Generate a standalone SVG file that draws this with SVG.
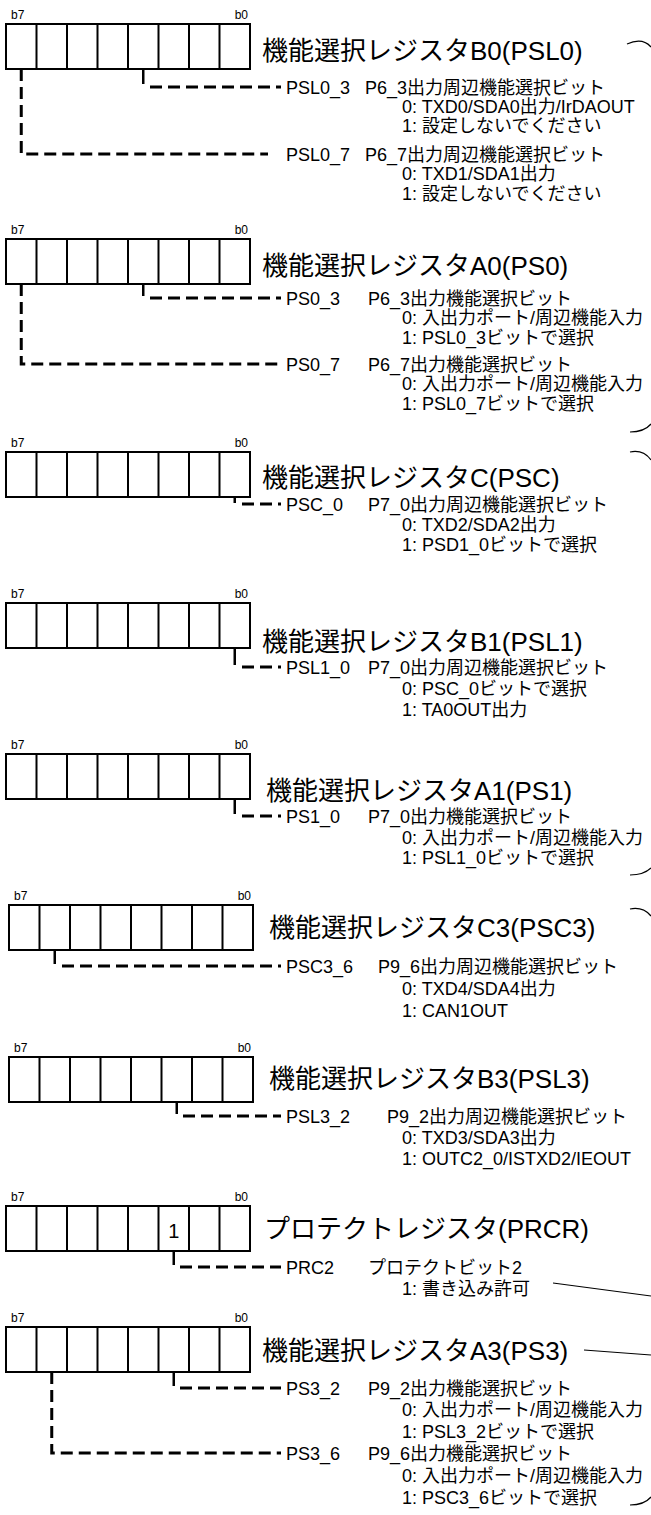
<svg xmlns="http://www.w3.org/2000/svg" xmlns:xlink="http://www.w3.org/1999/xlink" width="651" height="1515" viewBox="0 0 651 1515">
<style>
.bx{fill:#fff;stroke:#000;stroke-width:2}
.dv{stroke:#000;stroke-width:2}
.lb{font-family:'Liberation Sans',Arial,sans-serif;font-size:12px;fill:#000}
.ti{font-family:'Liberation Sans','Noto Sans CJK JP',sans-serif;font-size:26px;fill:#000}
.t{font-family:'Liberation Sans','Noto Sans CJK JP',sans-serif;font-size:18px;fill:#000}
.one{font-family:'Liberation Sans',sans-serif;font-size:20px;fill:#000;text-anchor:middle}
.dash{fill:none;stroke:#000;stroke-width:3;stroke-dasharray:12 6}
.tick{stroke:#000;stroke-width:2.5}
.br{fill:none;stroke:#000;stroke-width:1.2}
</style>
<defs>
<g id="reg">
<rect class="bx" x="0" y="0" width="244" height="45"/>
<path class="dv" d="M30.5,0V45M61,0V45M91.5,0V45M122,0V45M152.5,0V45M183,0V45M213.5,0V45"/>
</g>
</defs>

<g id="reg-psl0">
<text class="lb" x="11" y="19">b7</text><text class="lb" x="248" y="19" text-anchor="end">b0</text>
<use xlink:href="#reg" x="6" y="24"/>
<text class="ti" x="262" y="60">機能選択レジスタB0(PSL0)</text>
<text class="t" x="286" y="94">PSL0_3</text><text class="t" x="365" y="94">P6_3出力周辺機能選択ビット</text>
<text class="t" x="402" y="113">0: TXD0/SDA0出力/IrDAOUT</text>
<text class="t" x="402" y="132">1: 設定しないでください</text>
<text class="t" x="286" y="161">PSL0_7</text><text class="t" x="365" y="161">P6_7出力周辺機能選択ビット</text>
<text class="t" x="402" y="180">0: TXD1/SDA1出力</text>
<text class="t" x="402" y="200">1: 設定しないでください</text>
</g>

<g id="reg-ps0">
<text class="lb" x="11" y="234">b7</text><text class="lb" x="248" y="234" text-anchor="end">b0</text>
<use xlink:href="#reg" x="6" y="239"/>
<text class="ti" x="262" y="275">機能選択レジスタA0(PS0)</text>
<text class="t" x="286" y="305">PS0_3</text><text class="t" x="368" y="305">P6_3出力機能選択ビット</text>
<text class="t" x="402" y="324">0: 入出力ポート/周辺機能入力</text>
<text class="t" x="402" y="344">1: PSL0_3ビットで選択</text>
<text class="t" x="286" y="371">PS0_7</text><text class="t" x="368" y="371">P6_7出力機能選択ビット</text>
<text class="t" x="402" y="390">0: 入出力ポート/周辺機能入力</text>
<text class="t" x="402" y="410">1: PSL0_7ビットで選択</text>
</g>

<g id="reg-psc">
<text class="lb" x="11" y="447">b7</text><text class="lb" x="248" y="447" text-anchor="end">b0</text>
<use xlink:href="#reg" x="6" y="452"/>
<text class="ti" x="262" y="487">機能選択レジスタC(PSC)</text>
<text class="t" x="286" y="511">PSC_0</text><text class="t" x="368" y="511">P7_0出力周辺機能選択ビット</text>
<text class="t" x="402" y="531">0: TXD2/SDA2出力</text>
<text class="t" x="402" y="551">1: PSD1_0ビットで選択</text>
</g>

<g id="reg-psl1">
<text class="lb" x="11" y="598">b7</text><text class="lb" x="248" y="598" text-anchor="end">b0</text>
<use xlink:href="#reg" x="6" y="603"/>
<text class="ti" x="262" y="651">機能選択レジスタB1(PSL1)</text>
<text class="t" x="286" y="674">PSL1_0</text><text class="t" x="368" y="674">P7_0出力周辺機能選択ビット</text>
<text class="t" x="402" y="695">0: PSC_0ビットで選択</text>
<text class="t" x="402" y="716">1: TA0OUT出力</text>
</g>

<g id="reg-ps1">
<text class="lb" x="11" y="749">b7</text><text class="lb" x="248" y="749" text-anchor="end">b0</text>
<use xlink:href="#reg" x="6" y="754"/>
<text class="ti" x="266" y="800">機能選択レジスタA1(PS1)</text>
<text class="t" x="286" y="823">PS1_0</text><text class="t" x="368" y="823">P7_0出力機能選択ビット</text>
<text class="t" x="402" y="844">0: 入出力ポート/周辺機能入力</text>
<text class="t" x="402" y="864">1: PSL1_0ビットで選択</text>
</g>

<g id="reg-psc3">
<text class="lb" x="14" y="900">b7</text><text class="lb" x="251" y="900" text-anchor="end">b0</text>
<use xlink:href="#reg" x="9" y="905"/>
<text class="ti" x="269" y="937">機能選択レジスタC3(PSC3)</text>
<text class="t" x="286" y="973">PSC3_6</text><text class="t" x="378" y="973">P9_6出力周辺機能選択ビット</text>
<text class="t" x="402" y="995">0: TXD4/SDA4出力</text>
<text class="t" x="402" y="1017">1: CAN1OUT</text>
</g>

<g id="reg-psl3">
<text class="lb" x="14" y="1052">b7</text><text class="lb" x="251" y="1052" text-anchor="end">b0</text>
<use xlink:href="#reg" x="9" y="1057"/>
<text class="ti" x="269" y="1088">機能選択レジスタB3(PSL3)</text>
<text class="t" x="286" y="1123">PSL3_2</text><text class="t" x="387" y="1123">P9_2出力周辺機能選択ビット</text>
<text class="t" x="402" y="1144">0: TXD3/SDA3出力</text>
<text class="t" x="402" y="1165">1: OUTC2_0/ISTXD2/IEOUT</text>
</g>

<g id="reg-prcr">
<text class="lb" x="11" y="1201">b7</text><text class="lb" x="248" y="1201" text-anchor="end">b0</text>
<use xlink:href="#reg" x="6" y="1206"/>
<text class="one" x="173.75" y="1238">1</text>
<text class="ti" x="264" y="1238">プロテクトレジスタ(PRCR)</text>
<text class="t" x="286" y="1274">PRC2</text><text class="t" x="368" y="1274">プロテクトビット2</text>
<text class="t" x="402" y="1295">1: 書き込み許可</text>
</g>

<g id="reg-ps3">
<text class="lb" x="11" y="1322">b7</text><text class="lb" x="248" y="1322" text-anchor="end">b0</text>
<use xlink:href="#reg" x="6" y="1327"/>
<text class="ti" x="262" y="1360">機能選択レジスタA3(PS3)</text>
<text class="t" x="286" y="1395">PS3_2</text><text class="t" x="368" y="1395">P9_2出力機能選択ビット</text>
<text class="t" x="402" y="1416">0: 入出力ポート/周辺機能入力</text>
<text class="t" x="402" y="1438">1: PSL3_2ビットで選択</text>
<text class="t" x="286" y="1460">PS3_6</text><text class="t" x="368" y="1460">P9_6出力機能選択ビット</text>
<text class="t" x="402" y="1482">0: 入出力ポート/周辺機能入力</text>
<text class="t" x="402" y="1504">1: PSC3_6ビットで選択</text>
</g>

<g id="connectors">
<line class="tick" x1="143.25" y1="69" x2="143.25" y2="84"/>
<path class="dash" d="M150,87H281"/>
<path class="dash" d="M21.25,69V154H268"/>
<line class="tick" x1="143.25" y1="284" x2="143.25" y2="296"/>
<path class="dash" d="M150,298H281"/>
<path class="dash" d="M21.25,284V364H281"/>
<line class="tick" x1="234.75" y1="497" x2="234.75" y2="503"/>
<path class="dash" d="M242,504H281"/>
<line class="tick" x1="234.75" y1="648" x2="234.75" y2="665"/>
<path class="dash" d="M242,667H281"/>
<line class="tick" x1="234.75" y1="799" x2="234.75" y2="814"/>
<path class="dash" d="M242,816H281"/>
<line class="tick" x1="54.75" y1="950" x2="54.75" y2="964"/>
<path class="dash" d="M62,966H281"/>
<line class="tick" x1="176.75" y1="1102" x2="176.75" y2="1114"/>
<path class="dash" d="M183,1116H281"/>
<line class="tick" x1="173.75" y1="1251" x2="173.75" y2="1265"/>
<path class="dash" d="M180,1267H281"/>
<line class="tick" x1="173.75" y1="1372" x2="173.75" y2="1386"/>
<path class="dash" d="M180,1388H281"/>
<path class="dash" d="M51.75,1372V1453H281"/>
</g>

<g id="braces">
<path class="br" d="M627,44C636,40 645,40 651,47"/>
<path class="br" d="M630,432C640,432 646,430 651,424"/>
<path class="br" d="M630,452C640,450 646,453 651,460"/>
<path class="br" d="M630,875C640,875 646,873 651,868"/>
<path class="br" d="M630,909C640,907 646,910 651,916"/>
<path class="br" d="M553,1283L651,1296"/>
<path class="br" d="M584,1350L651,1355"/>
<path class="br" d="M630,1505C640,1505 646,1503 651,1497"/>
</g>
</svg>
